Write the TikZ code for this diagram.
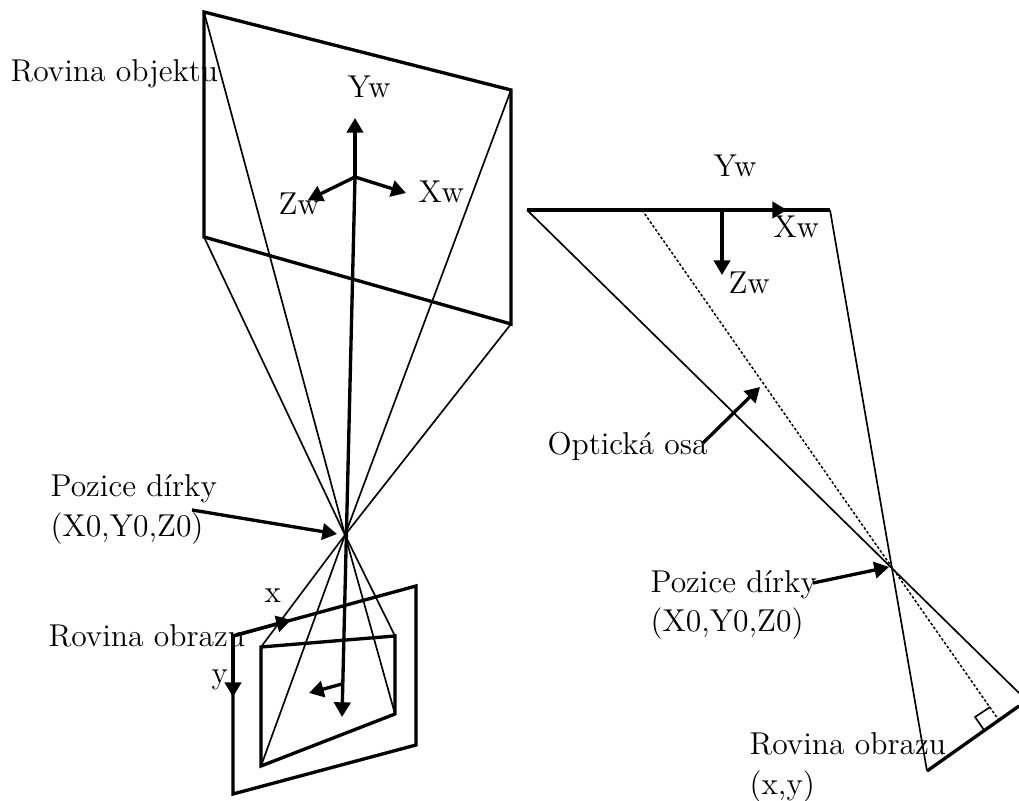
\documentclass[tikz,border=0pt]{standalone}
\usepackage{tikz}
\usetikzlibrary{arrows.meta}

\begin{document}
\begin{tikzpicture}[x=0.3pt, y=-0.3pt,
label_style/.style={anchor=base west, inner sep=0pt, font=\large, scale=0.79, transform shape},
thin_style/.style={draw=black, line width=0.5pt},
plane_style/.style={draw=black, line width=1pt, line join=miter},
arrow_style/.style={draw=black, line width=1pt, -{Triangle[length=4.4pt,width=4.9pt]}},
dot_style/.style={draw=black, line width=0.45pt, dash pattern=on 0.8pt off 0.6pt}]
\useasboundingbox (0,0) rectangle (1019,801);

\coordinate (oa) at (204,12);
\coordinate (ob) at (511,90);
\coordinate (oc) at (511,324);
\coordinate (od) at (204,237);
\coordinate (pin) at (345,535);
\coordinate (ia) at (261,647);
\coordinate (ib) at (395,636);
\coordinate (ic) at (395,714);
\coordinate (id) at (261,766);
\coordinate (fa) at (233,636);
\coordinate (fb) at (416,586);
\coordinate (fc) at (416,745);
\coordinate (fd) at (233,794);
\coordinate (wo) at (355,177);
\coordinate (wy) at (355,118);
\coordinate (wx) at (406,193);
\coordinate (wz) at (308,200);
\coordinate (axis) at (342,717);
\coordinate (sa) at (342,684);
\coordinate (sb) at (309,693);
\coordinate (fx) at (291,620);
\coordinate (fy) at (233,697);
\coordinate (pa) at (192,510);
\coordinate (pb) at (337,534);

\draw[plane_style] (oa) -- (ob) -- (oc) -- (od) -- cycle;
\draw[plane_style] (fa) -- (fb) -- (fc) -- (fd) -- cycle;
\draw[plane_style] (ia) -- (ib) -- (ic) -- (id) -- cycle;

\draw[thin_style] (oa) -- (pin) -- (ic);
\draw[thin_style] (ob) -- (pin) -- (id);
\draw[thin_style] (oc) -- (pin) -- (ia);
\draw[thin_style] (od) -- (pin) -- (ib);

\draw[arrow_style] (wo) -- (wy);
\draw[arrow_style] (wo) -- (wx);
\draw[arrow_style] (wo) -- (wz);
\draw[arrow_style] (wo) -- (axis);
\draw[arrow_style] (sa) -- (sb);
\draw[arrow_style] (fa) -- (fx);
\draw[arrow_style] (fa) -- (fy);
\draw[arrow_style] (pa) -- (pb);

\node[label_style] (robj) at (10,82) {Rovina objektu};
\node[label_style] (yw1) at (347,98) {Yw};
\node[label_style] (xw1) at (418,203) {Xw};
\node[label_style] (zw1) at (278,215) {Zw};
\node[label_style] (poz1) at (50,497) {Pozice dírky};
\node[label_style] (xyz1) at (50,537) {(X0,Y0,Z0)};
\node[label_style] (x1) at (264,603) {x};
\node[label_style] (robr1) at (48,647) {Rovina obrazu};
\node[label_style] (y1) at (211,684) {y};

\coordinate (ra) at (527,210);
\coordinate (rb) at (830,210);
\coordinate (rd) at (642,210);
\coordinate (rpin) at (890,567);
\coordinate (re) at (1019,693);
\coordinate (rf) at (927,771);
\coordinate (rg) at (1019,706);
\coordinate (rh) at (998,719);
\coordinate (qa) at (984,730);
\coordinate (qb) at (975,717);
\coordinate (qc) at (990,707);
\coordinate (rx) at (787,210);
\coordinate (rt) at (722,210);
\coordinate (rz) at (722,275);
\coordinate (oo) at (703,443);
\coordinate (op) at (760,387);
\coordinate (ra2) at (813,583);
\coordinate (rb2) at (889,567);

\draw[plane_style] (ra) -- (rb);
\draw[plane_style] (rf) -- (rg);
\draw[thin_style] (ra) -- (re);
\draw[thin_style] (rb) -- (rf);
\draw[dot_style] (rd) -- (rh);
\draw[thin_style] (qa) -- (qb) -- (qc);

\draw[arrow_style] (ra) -- (rx);
\draw[arrow_style] (rt) -- (rz);
\draw[arrow_style] (oo) -- (op);
\draw[arrow_style] (ra2) -- (rb2);

\node[label_style] (yw2) at (713,177) {Yw};
\node[label_style] (xw2) at (773,238) {Xw};
\node[label_style] (zw2) at (728,294) {Zw};
\node[label_style] (opt) at (547,455) {Optická osa};
\node[label_style] (poz2) at (650,593) {Pozice dírky};
\node[label_style] (xyz2) at (650,632) {(X0,Y0,Z0)};
\node[label_style] (robr2) at (749,755) {Rovina obrazu};
\node[label_style] (xy2) at (749,795) {(x,y)};

\end{tikzpicture}
\end{document}
